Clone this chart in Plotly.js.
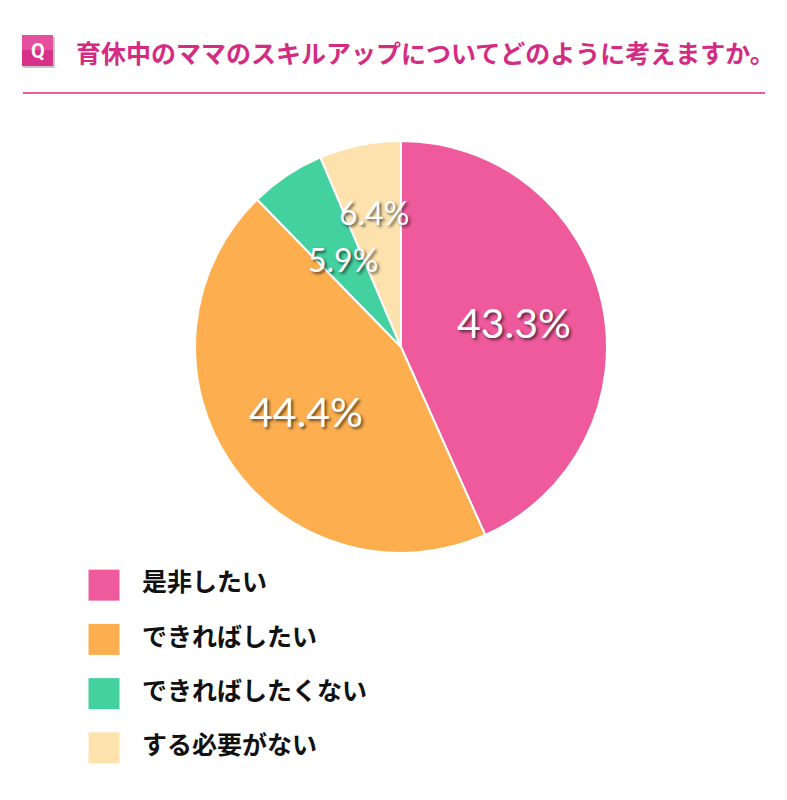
<!DOCTYPE html>
<html>
<head>
<meta charset="utf-8">
<script src="https://cdn.plot.ly/plotly-3.0.1.min.js"></script>
<style>
  body { margin: 0; background: #fff; }
  #chart { width: 787px; height: 800px; }
</style>
</head>
<body>
<div id="chart"></div>
<script>
// answers and their shares (%)
var categories = ['是非したい', 'できればしたい', 'できればしたくない', 'する必要がない'];
var shares = [43.3, 44.4, 5.9, 6.4];
var shareLabels = ['43.3%', '44.4%', '5.9%', '6.4%'];

var question = '育休中のママのスキルアップについてどのように考えますか。';

var colors = ['#EE5A9B', '#FDAF4F', '#43D19F', '#FDE2AE'];

var W = 787, H = 800;
function px(x) { return x / W; }
function py(y) { return 1 - y / H; }

// pie placement (pixels)
var pieCx = 401, pieCy = 347, pieR = 206;
// how far out each percent label sits (fraction of radius) and its size
var labelRadius = [0.56, 0.56, 0.51, 0.665];
var labelSize = [41, 41, 32, 32];

var pie = {
  type: 'pie',
  values: shares,
  labels: categories,
  marker: { colors: colors, line: { color: '#ffffff', width: 2 } },
  sort: false,
  direction: 'clockwise',
  rotation: 0,
  textinfo: 'none',
  hoverinfo: 'skip',
  domain: { x: [px(pieCx - pieR), px(pieCx + pieR)], y: [py(pieCy + pieR), py(pieCy - pieR)] },
  showlegend: false
};

// legend squares + names
var idx = categories.map(function (c, i) { return i; });
var legendMarks = {
  type: 'scatter',
  mode: 'markers',
  x: categories.map(function () { return 0; }),
  y: idx,
  marker: { symbol: 'square', size: 31, color: colors, line: { width: 0 } },
  hoverinfo: 'skip',
  showlegend: false
};
var legendText = {
  type: 'scatter',
  mode: 'text',
  x: categories.map(function () { return 38; }),
  y: idx,
  text: categories,
  textposition: 'middle right',
  textfont: { family: 'Noto Sans CJK JP', size: 25, color: '#111111', weight: 700 },
  hoverinfo: 'skip',
  showlegend: false
};

// percent labels, placed at each slice's mid angle
var total = shares.reduce(function (a, b) { return a + b; }, 0);
var annotations = [];
var cum = 0;
shares.forEach(function (v, i) {
  var mid = (cum + v / 2) / total * 2 * Math.PI;
  cum += v;
  var x = pieCx + Math.sin(mid) * pieR * labelRadius[i];
  var y = pieCy - Math.cos(mid) * pieR * labelRadius[i];
  annotations.push({
    xref: 'paper', yref: 'paper', x: px(x), y: py(y),
    xanchor: 'center', yanchor: 'middle', showarrow: false,
    text: shareLabels[i],
    font: { family: 'Lato, sans-serif', size: labelSize[i], color: '#ffffff',
            shadow: '2px 2px 3px rgba(0,0,0,0.6)' }
  });
});

annotations.push({
  xref: 'paper', yref: 'paper', x: px(74), y: py(52),
  xanchor: 'left', yanchor: 'middle', showarrow: false,
  text: question,
  font: { family: 'Noto Sans CJK JP', size: 25, color: '#D42C82', weight: 700 }
});
annotations.push({
  xref: 'paper', yref: 'paper', x: px(37.5), y: py(51),
  xanchor: 'center', yanchor: 'middle', showarrow: false,
  text: 'Q',
  font: { family: 'Roboto', size: 20, color: '#ffffff', weight: 700 }
});

// Q badge: shadow, base colour, lighter top half
var shapes = [{
  type: 'rect', xref: 'paper', yref: 'paper',
  x0: px(23), x1: px(55), y0: py(68), y1: py(37),
  fillcolor: 'rgba(0,0,0,0.22)', line: { width: 0 }, layer: 'below'
}, {
  type: 'rect', xref: 'paper', yref: 'paper',
  x0: px(22), x1: px(53), y0: py(66), y1: py(35),
  fillcolor: '#D8318A', line: { width: 0 }, layer: 'below'
}, {
  type: 'rect', xref: 'paper', yref: 'paper',
  x0: px(22), x1: px(53), y0: py(50), y1: py(35),
  fillcolor: '#E4509E', line: { width: 0 }, layer: 'below'
}, {
  type: 'line', xref: 'paper', yref: 'paper',
  x0: px(23), x1: px(765), y0: py(93), y1: py(93),
  line: { color: '#EE5A9A', width: 2 }
}];

var layout = {
  width: W, height: H,
  margin: { l: 0, r: 0, t: 0, b: 0, pad: 0 },
  paper_bgcolor: '#ffffff', plot_bgcolor: 'rgba(0,0,0,0)',
  showlegend: false,
  xaxis: { domain: [0, 1], range: [-104, 683], visible: false, fixedrange: true },
  yaxis: { domain: [py(775), py(558)], range: [3.5, -0.5], visible: false, fixedrange: true },
  annotations: annotations,
  shapes: shapes
};

Plotly.newPlot('chart', [pie, legendMarks, legendText], layout, { staticPlot: true });
</script>
</body>
</html>
